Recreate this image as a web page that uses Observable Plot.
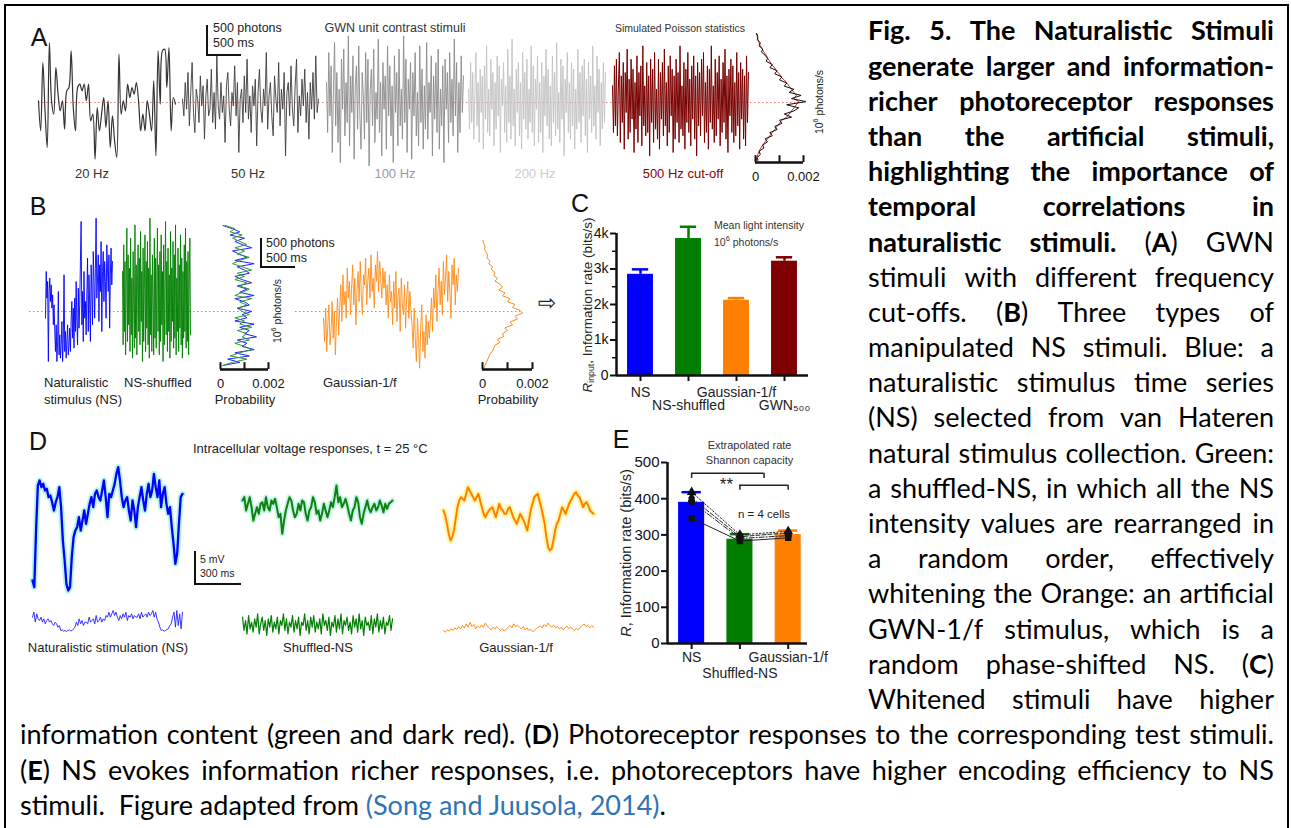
<!DOCTYPE html>
<html><head><meta charset="utf-8">
<script src="https://cdn.jsdelivr.net/npm/d3@7"></script>
<script src="https://cdn.jsdelivr.net/npm/@observablehq/plot@0.6"></script>
<style>
html,body{margin:0;padding:0;background:#fff;}
body{width:1291px;height:828px;position:relative;overflow:hidden;font-family:"Liberation Sans",Arial,sans-serif;}
#root{position:absolute;left:0;top:0;width:1291px;height:828px;}
#frame{position:absolute;left:4px;top:4px;width:1281px;height:900px;border:2px solid #000;}
.lbl{position:absolute;white-space:nowrap;line-height:1;}
.bar{position:absolute;background:#111;}
.cap{position:absolute;font-family:Lato,"Open Sans",sans-serif;font-size:27px;color:#000;}
.cap .ln{height:35.2px;line-height:35.2px;display:flex;justify-content:space-between;white-space:nowrap;}
.cap .ln span{flex:none;}
.cap .lnl{height:35.2px;line-height:35.2px;white-space:pre;}
sub{font-size:65%;vertical-align:-0.25em;}
</style></head>
<body><div id="root"><div id="frame"></div></div>
<script>
// ---------------- DATA ----------------
// Panel A: GWN stimuli (deviation from mean, units of ~5.6 photons)
const a20Hz = [5,-85,120,-25,-135,180,5,-35,105,25,-25,5,-80,35,45,155,-15,-85,45,55,35,55,5,55,-55,-35,-170,-15,-85,-35,15,-75,5,-135,-40,-115,-165,145,-35,5,-25,55,15,45,25,60,5,-85,-35,-85,5,-35,-85,65,-160,155,-5,155,160,45,165,-85,15,-5];
const a50Hz = [10,-40,60,-20,90,-70,30,120,-30,-90,40,10,-60,80,-10,50,-110,20,70,-40,-20,100,-60,30,-80,140,-10,-50,60,-30,20,-120,50,90,-20,-70,30,-10,110,-40,60,-150,10,40,-60,80,-30,130,-50,20,-90,50,-10,70,-130,30,100,-20,-60,40,-10,150,-80,20,60,-40,-100,80,10,-30,120,-70,40,-20,90,-160,30,60,-40,110,-20,-70,50,130,-90,20,-40,70,-10,100,-60,30,-110,60,-20,90,-50,140,-30,10];
const a100Hz = [60,-90,150,-40,110,-150,30,180,-70,90,-120,40,-180,130,-20,160,-100,60,-60,200,-130,80,-30,140,-170,50,110,-80,170,-40,-140,90,20,-110,150,-60,130,-190,40,100,-70,160,-120,30,-50,190,-90,60,-160,120,-20,80,-140,170,-40,110,-100,50,-180,140,-30,90,-130,160,-70,40,-110,200,-60,130,-150,70,-20,120,-170,90,-40,150,-100,30,-130,170,-60,100,-140,50,-80,180,-110,60,-30,140,-160,80,-50,120,-90,160,-140,40,-70,110,-180,130,-20,90,-120,150,-60,70,-100,190,-40,120,-150,60,-90,140,-30,80];
const a200Hz = [40,-80,120,-60,90,-110,30,150,-70,60,-120,100,-30,80,-140,110,-50,170,-90,40,-100,130,-20,90,-130,60,-80,140,-40,110,-150,70,-10,120,-90,50,-120,160,-60,80,-110,190,-70,40,-130,100,-30,120,-100,60,-140,150,-50,90,-80,130,-110,40,-60,170,-90,110,-130,70,-20,140,-120,60,-90,120,-150,80,-40,160,-70,100,-110,50,-130,140,-60,90,-100,180,-80,30,-120,130,-50,110,-160,70,-30,150,-90,60,-110,120,-70,100,-140,40,-80,160,-60,90,-120,110,-40,130,-100,70,-150,120,-50,80,-90,170,-70,50,-110,140,-30,100,-130,60,-80,120,-60,90];
const a500Hz = [50,-90,110,-70,130,-100,40,150,-120,80,-60,120,-140,90,-30,160,-110,70,-90,130,-50,100,-150,60,-80,140,-120,90,-40,110,-130,170,-70,50,-100,120,-90,80,-160,130,-60,100,-120,150,-80,40,-110,130,-140,90,-50,120,-100,160,-70,60,-130,110,-90,140,-40,100,-150,80,-110,130,-60,90,-120,170,-80,50,-100,120,-140,100,-60,150,-90,70,-130,110,-50,140,-110,80,-160,120,-70,90,-100,130,-40,150,-120,60,-90,110,-140,100,-60,170,-80,50,-120,130,-100,90,-50,140,-130,70,-90,120,-60,160,-110,80,-150,100,-40,130,-90,110,-120,60,-100,150,-70,90,-140,120,-50,100,-110,80,-130,140,-60,90];
// Panel A histogram (probability per bin, top = high intensity)
const aHistBlack = [0.00005,0.0001,0.00008,0.0002,0.00015,0.0003,0.00025,0.0004,0.0005,0.00045,0.0007,0.0006,0.0009,0.0008,0.0011,0.001,0.0013,0.0012,0.0016,0.0014,0.0019,0.0015,0.0021,0.0013,0.0018,0.0016,0.0012,0.0015,0.001,0.0011,0.0008,0.0009,0.0006,0.0007,0.0004,0.0005,0.0003,0.00035,0.00015,0.0002,0.00008,0.0001];
const aHistRed = [0.00003,0.00008,0.0001,0.00015,0.0002,0.00028,0.00035,0.00045,0.0005,0.0006,0.00065,0.0008,0.00085,0.001,0.00105,0.0012,0.0013,0.0014,0.0015,0.0016,0.0017,0.0016,0.0018,0.0017,0.0016,0.0015,0.0014,0.0013,0.0011,0.001,0.0009,0.0008,0.0007,0.0006,0.0005,0.0004,0.0003,0.00022,0.00015,0.0001,0.00006,0.00003];

// Panel B: manipulated NS stimuli
const bNS = [-20,120,40,90,-150,60,100,30,80,10,50,-40,20,-60,-120,-40,-150,-90,60,-130,-70,-140,-100,-30,-150,-80,110,-120,-60,-140,-90,-40,-130,-100,-50,-120,-20,30,-80,10,-110,40,-60,90,-30,-100,70,-50,20,150,270,-40,60,-90,120,-20,30,-70,50,160,-60,110,20,-90,140,60,-40,180,90,-20,130,280,40,100,170,-30,140,60,210,-60,120,180,30,150,90,-20,200,130,60,170,-50,110,190,80,150];
const bShuffled = [120,-100,200,-60,150,-130,80,250,-90,170,-40,130,-120,220,-70,100,-140,180,20,-110,260,-80,140,-130,90,200,-60,160,-100,240,-30,120,-150,190,-90,70,230,-120,150,-50,210,-100,130,-140,280,-70,110,-120,170,30,-130,220,-80,160,-110,90,250,-60,140,-130,180,-90,230,-40,120,-150,200,-100,80,270,-70,150,-120,190,-60,110,-140,240,-90,130,-30,210,-110,170,-80,260,-130,100,-60,190,-120,140,-50,230,-100,160,-140,120,-80,200,-60,250,-110,150,-90,180,-130,90,220,-70];
const bGauss = [-20,-90,10,-120,-40,20,-100,-60,30,-80,0,-130,-30,40,-70,10,80,-30,110,20,60,-20,130,40,90,-10,70,140,20,100,-40,60,120,30,150,50,-10,110,80,160,20,90,130,40,170,60,100,10,140,90,180,60,150,100,40,130,70,120,20,80,-20,110,30,60,-40,90,10,120,-30,50,70,-60,100,20,-10,80,-50,40,90,-20,60,0,-40,-110,10,-80,-150,-20,-90,-170,-50,20,-120,-60,-140,-10,-100,-30,-80,-20,40,-60,70,10,110,-30,60,130,20,90,-10,150,50,100,170,30,120,60,-20,140,80,160,20,110,60,130];
const bHistGreen = [0.0002,0.0006,0.0004,0.0009,0.0005,0.0008,0.0011,0.0006,0.001,0.0007,0.0012,0.0008,0.0005,0.0009,0.0013,0.0007,0.001,0.0006,0.0011,0.0008,0.0012,0.0009,0.0006,0.0013,0.0008,0.0011,0.0007,0.0009,0.0012,0.0006,0.001,0.0008,0.0013,0.0007,0.0011,0.0009,0.0012,0.0006,0.001,0.0013,0.0008,0.0004,0.0011,0.0005,0.0001];
const bHistBlue = [0.0001,0.0005,0.0008,0.0004,0.001,0.0006,0.0009,0.0013,0.0005,0.0008,0.0011,0.0006,0.0014,0.0007,0.001,0.0012,0.0006,0.0009,0.0013,0.0007,0.0011,0.0008,0.0014,0.0006,0.001,0.0012,0.0007,0.0013,0.0009,0.0011,0.0006,0.0014,0.0008,0.0012,0.001,0.0015,0.0007,0.0011,0.0009,0.0014,0.0006,0.0012,0.0003,0.0008,0.0001];
const bHistOrange = [0.00002,0.00005,0.0001,0.00008,0.00015,0.0002,0.00018,0.0003,0.00025,0.0004,0.00035,0.0005,0.00045,0.0006,0.0005,0.0007,0.0008,0.00065,0.0009,0.0008,0.0011,0.001,0.0013,0.0012,0.0015,0.0016,0.0013,0.0014,0.0011,0.0012,0.0009,0.001,0.0008,0.00085,0.0006,0.0007,0.0005,0.00045,0.0004,0.0003,0.00025,0.0002,0.00015,0.0001,0.00005];

// Panel C: information rate of the stimuli
const cCategories = ["NS","NS-shuffled","Gaussian-1/f","GWN₅₀₀"];
const cRates = [2850,3860,2120,3220];
const cErrors = [140,330,60,110];
const cColors = ["#0000ff","#007f00","#ff8000","#7f0000"];
const cLabelRow = [0,1,0,1];

// Panel D: voltage responses (units of 0.05 mV) and stimuli
const dNSResp = [50,30,200,335,350,330,340,320,325,300,305,285,260,285,300,330,270,170,110,40,20,30,120,180,200,210,240,200,230,260,220,250,280,300,270,310,320,300,290,320,350,300,240,310,300,320,340,370,390,350,300,270,290,300,260,230,290,260,210,270,300,330,290,260,310,340,300,320,370,330,300,350,270,310,330,280,250,270,210,160,100,130,220,300,310];
const dShufResp = [290,300,260,280,300,270,230,250,270,250,280,285,260,300,270,260,290,280,295,270,240,250,190,230,260,280,300,290,260,240,250,280,260,290,285,250,230,260,270,300,285,250,260,230,250,280,260,240,260,285,270,300,335,285,300,270,280,295,275,250,230,260,270,300,285,240,220,250,270,290,265,255,270,280,260,270,290,275,255,280,265,280,285,290];
const dGaussResp = [260,245,220,190,170,180,200,235,270,290,300,295,290,310,330,320,310,300,290,300,310,290,270,250,240,250,260,265,270,255,240,260,280,265,260,250,250,265,270,255,240,230,220,235,250,240,230,215,200,230,260,280,300,305,310,290,270,245,220,180,150,140,145,170,200,220,230,250,270,260,250,265,280,290,300,310,315,305,300,285,270,280,285,275,260,255,250];
const dNSStim = [-60,-45,-75,-50,-65,-70,-60,-75,-65,-80,-70,-65,-75,-70,-80,-85,-75,-80,-90,-85,-100,-98,-102,-100,-103,-100,-98,-101,-100,-95,-90,-75,-85,-65,-80,-70,-85,-75,-75,-80,-60,-75,-70,-65,-80,-55,-75,-70,-60,-75,-65,-70,-55,-60,-45,-60,-50,-40,-55,-45,-60,-70,-55,-65,-50,-60,-45,-70,-55,-60,-50,-65,-55,-60,-60,-50,-65,-45,-60,-55,-50,-60,-45,-55,-50,-40,-60,-45,-65,-75,-90,-100,-98,-102,-100,-97,-95,-85,-80,-60,-45,-90,-40,-85,-50,-95,-45];
const dShufStim = [-60,-100,-70,-110,-55,-95,-75,-105,-65,-90,-50,-110,-80,-60,-100,-70,-115,-65,-90,-55,-105,-75,-95,-60,-110,-70,-85,-50,-100,-65,-110,-75,-90,-55,-105,-70,-95,-60,-115,-75,-85,-50,-100,-70,-110,-60,-90,-55,-105,-75,-95,-65,-110,-50,-85,-70,-100,-60,-115,-75,-90,-55,-105,-65,-95,-50,-110,-70,-85,-60,-100,-75,-110,-55,-90,-65,-105,-50,-95,-70,-115,-60,-85,-75,-100,-55,-110,-65,-90,-50,-105,-70,-95,-60,-110,-75,-85,-55,-100,-65];
const dGaussStim = [-100,-105,-98,-102,-95,-100,-92,-97,-88,-95,-85,-93,-80,-90,-75,-88,-82,-95,-86,-92,-84,-90,-78,-86,-92,-98,-90,-96,-88,-94,-100,-95,-102,-96,-90,-85,-92,-80,-88,-84,-90,-95,-88,-98,-92,-100,-96,-104,-98,-94,-90,-86,-92,-82,-88,-78,-85,-90,-84,-92,-88,-95,-90,-98,-92,-87,-94,-89,-96,-100,-94,-98,-90,-86,-80,-88,-84,-92,-86,-90];

// Panel E: response information rates
const eCategories = ["NS","Shuffled-NS","Gaussian-1/f"];
const eRates = [390,288,301];
const eErrors = [28,14,11];
const eColors = ["#0000ff","#007f00","#ff8000"];
const eLabelRow = [0,1,0];
const eCells = [[418,300,310],[402,295,306],[392,290,298],[346,283,292]];
const eSymbols = ["triangle","diamond","circle","square"];
const eDashes = ["1.5,2","4,2","5,2,1,2","none"];
const eBrackets = [{from:0,to:1.5,y:470},{from:1,to:2,y:437}];

// ---------------- HELPERS ----------------
const root = document.getElementById("root");
const FONT = "Liberation Sans, Arial, sans-serif";
const baseStyle = {background:"transparent", overflow:"visible", maxWidth:"none", fontFamily:FONT, color:"#111"};
function place(node, left, top){ node.style.position="absolute"; node.style.left=left+"px"; node.style.top=top+"px"; root.appendChild(node); return node; }
function label(html, x, y, o={}){
  const d=document.createElement("div"); d.className="lbl"; d.innerHTML=html;
  d.style.fontSize=(o.size||13)+"px"; d.style.color=o.color||"#222";
  if(o.font) d.style.fontFamily=o.font;
  d.style.left=x+"px"; d.style.top=y+"px";
  const ax=o.anchor==="start"?"0":o.anchor==="end"?"-100%":"-50%";
  d.style.transform=`translate(${ax},-50%)`+(o.rotate?` rotate(${o.rotate}deg)`:"");
  root.appendChild(d); return d;
}
function bar(l,t,w,h){ const d=document.createElement("div"); d.className="bar"; Object.assign(d.style,{left:l+"px",top:t+"px",width:w+"px",height:h+"px"}); root.appendChild(d); }
function trace(values, o){
  const marks=[];
  if(o.halo) marks.push(Plot.lineY(values,{stroke:o.halo,strokeWidth:o.haloW||7,strokeLinejoin:"round",strokeLinecap:"round",curve:o.curve||"linear"}));
  marks.push(Plot.lineY(values,{stroke:o.stroke,strokeWidth:o.sw||1,strokeLinejoin:"round",curve:o.curve||"linear"}));
  const p=Plot.plot({width:o.width,height:o.height,margin:0,x:{domain:[0,values.length-1],axis:null},y:{domain:o.domain,axis:null},style:baseStyle,marks});
  return place(p,o.left,o.top);
}
function dotted(o){
  const p=Plot.plot({width:o.width,height:o.height,margin:0,x:{axis:null},y:{domain:o.domain,axis:null},style:baseStyle,
    marks:[Plot.ruleY([0],{stroke:"#e07878",strokeDasharray:"1.5,2.5",strokeWidth:1})]});
  return place(p,o.left,o.top);
}
function hist(series, o){
  const n=series[0].values.length;
  const p=Plot.plot({width:o.width,height:o.height,margin:0,
    x:{domain:[0,0.002],range:[0,o.width],axis:null},y:{domain:[0,n-1],range:o.range,axis:null},style:baseStyle,
    marks:series.map(s=>Plot.lineX(s.values,{stroke:s.stroke,strokeWidth:1}))});
  return place(p,o.left,o.top);
}
function probAxis(left, top, width){
  const p=Plot.plot({width,height:34,marginTop:0,marginBottom:26,marginLeft:0,marginRight:0,
    x:{domain:[0,0.002]},y:{domain:[0,1],axis:null},style:baseStyle,
    marks:[
      Plot.ruleY([0],{strokeWidth:2.5,stroke:"#111"}),
      Plot.ruleX([0,0.001,0.002],{y1:0,y2:0.85,strokeWidth:2,stroke:"#111"}),
      Plot.axisX({ticks:[0,0.001,0.002],tickSize:0,tickPadding:9,fontSize:13,label:null,
        tickFormat:d=>d===0?"0":(d===0.002?"0.002":"")})
    ]});
  return place(p,left,top);
}

// ---------------- PANEL A ----------------
label("A",39,37,{size:25,color:"#111"});
const aDom=[-219,216];
dotted({left:38,top:30,width:765,height:145,domain:aDom});
trace(a20Hz,{left:38,top:30,width:137,height:145,domain:aDom,stroke:"#333",sw:1.2,curve:"catmull-rom"});
trace(a50Hz,{left:182,top:30,width:136,height:145,domain:aDom,stroke:"#3d3d3d",sw:0.9});
trace(a100Hz,{left:326,top:30,width:137,height:145,domain:aDom,stroke:"#8a8a8a",sw:0.9});
trace(a200Hz,{left:468,top:30,width:137,height:145,domain:aDom,stroke:"#c2c2c2",sw:0.9});
trace(a500Hz,{left:612,top:30,width:136,height:145,domain:aDom,stroke:"#7a0000",sw:1});
hist([{values:aHistRed,stroke:"#d02828"},{values:aHistBlack,stroke:"#111"}],{left:755,top:25,width:48,height:145,range:[8,135]});
probAxis(755,154,48);
bar(206,25,2,31); bar(206,54,35,2);
label("500 photons",213,28,{anchor:"start",size:12.5});
label("500 ms",213,43,{anchor:"start",size:12.5});
label("GWN unit contrast stimuli",395,28,{size:12.5,color:"#333"});
label("Simulated Poisson statistics",680,28,{size:10.5,color:"#333"});
label("20 Hz",92,173,{size:13,color:"#333"});
label("50 Hz",248,173,{size:13,color:"#333"});
label("100 Hz",395,173,{size:13,color:"#9a9a9a"});
label("200 Hz",535,173,{size:13,color:"#cdcdcd"});
label("500 Hz cut-off",683,173,{size:13,color:"#8b0000"});
label("10<sup style='font-size:70%'>6</sup> photons/s",818,102,{size:10.5,rotate:-90,color:"#222"});

// ---------------- PANEL B ----------------
label("B",38,206,{size:25,color:"#111"});
const bDom=[-192,303];
dotted({left:29,top:210,width:223,height:165,domain:bDom});
dotted({left:295,top:210,width:225,height:165,domain:bDom});
trace(bNS,{left:45,top:210,width:67,height:165,domain:bDom,stroke:"#0000ff",sw:0.9});
trace(bShuffled,{left:122,top:210,width:68,height:165,domain:bDom,stroke:"#007f00",sw:0.9});
trace(bGauss,{left:323,top:210,width:135,height:165,domain:bDom,stroke:"#ff8c1a",sw:0.9});
hist([{values:bHistBlue,stroke:"#2222ff"},{values:bHistGreen,stroke:"#2f9a2f"}],{left:220,top:210,width:48,height:160,range:[15,155]});
hist([{values:bHistOrange,stroke:"#ff8c1a"}],{left:482,top:210,width:50,height:160,range:[30,158]});
probAxis(220,361,48);
probAxis(482,361,50);
label("Probability",245,399,{size:13});
label("Probability",508,399,{size:13});
label("10<sup style='font-size:70%'>6</sup> photons/s",276,311,{size:10.5,rotate:-90});
bar(260,238,2,30); bar(260,266,35,2);
label("500 photons",266,243,{anchor:"start",size:12.5});
label("500 ms",266,258,{anchor:"start",size:12.5});
label("Naturalistic",44,382,{anchor:"start",size:13});
label("stimulus (NS)",44,399,{anchor:"start",size:13});
label("NS-shuffled",124,382,{anchor:"start",size:13});
label("Gaussian-1/f",323,382,{anchor:"start",size:13});
label("⇨",547,303,{size:22,font:"DejaVu Sans",color:"#222"});

// ---------------- PANEL C ----------------
label("C",580,203,{size:25,color:"#111"});
const cData=cCategories.map((name,i)=>({name,i,rate:cRates[i],err:cErrors[i],color:cColors[i],row:cLabelRow[i]}));
place(Plot.plot({width:260,height:205,marginLeft:56,marginTop:18,marginBottom:45,marginRight:12,
  x:{domain:[-0.5,3.5],axis:null},y:{domain:[0,4000],axis:null},color:{type:"identity"},style:baseStyle,
  marks:[
    Plot.rectY(cData,{x1:d=>d.i-0.27,x2:d=>d.i+0.27,y1:0,y2:"rate",fill:"color"}),
    Plot.ruleX(cData,{x:"i",y1:"rate",y2:d=>d.rate+d.err,stroke:"color",strokeWidth:2.5}),
    Plot.ruleY(cData,{y:d=>d.rate+d.err,x1:d=>d.i-0.17,x2:d=>d.i+0.17,stroke:"color",strokeWidth:2.5}),
    Plot.ruleX([-0.5],{y1:0,y2:4000,strokeWidth:2.5,stroke:"#111"}),
    Plot.ruleY([0],{strokeWidth:2.5,stroke:"#111"}),
    Plot.axisY({ticks:[0,1000,2000,3000,4000],tickFormat:d=>d===0?"0":d/1000+"k",tickSize:6,tickPadding:2,fontSize:14,strokeWidth:2,label:null}),
    Plot.axisY({ticks:[500,1500,2500,3500],tickFormat:()=>"",tickSize:4,strokeWidth:1.5,label:null}),
    Plot.axisX({ticks:[0,1,2,3],tickFormat:()=>"",tickSize:6,strokeWidth:2,label:null}),
    Plot.text(cData.filter(d=>d.row===0),{x:"i",y:0,text:"name",dy:17,fontSize:14,fill:"#222"}),
    Plot.text(cData.filter(d=>d.row===1),{x:"i",y:0,text:"name",dy:30,fontSize:14,fill:"#222"})
  ]}),560,215);
label("<i>R</i><sub>input</sub>, Information rate (bits/s)",588,305,{size:13.5,rotate:-90});
label("Mean light intensity",714,225,{anchor:"start",size:10.5,color:"#333"});
label("10<sup style='font-size:70%'>6</sup> photons/s",714,241,{anchor:"start",size:10.5,color:"#333"});

// ---------------- PANEL D ----------------
label("D",38,441,{size:25,color:"#111"});
label("Intracellular voltage responses, t = 25 °C",193,448,{anchor:"start",size:13});
const dDom=[-160,500];
trace(dNSResp,{left:32,top:430,width:150,height:220,domain:dDom,stroke:"#0000ff",sw:2.3,halo:"#b4f4e4",haloW:6});
trace(dShufResp,{left:242,top:430,width:150,height:220,domain:dDom,stroke:"#108010",sw:2,halo:"#c0f4e4",haloW:5.5});
trace(dGaussResp,{left:443,top:430,width:150,height:220,domain:dDom,stroke:"#ff8000",sw:2,halo:"#fff6a8",haloW:6});
trace(dNSStim,{left:32,top:430,width:150,height:220,domain:dDom,stroke:"#2020ff",sw:0.9});
trace(dShufStim,{left:242,top:430,width:150,height:220,domain:dDom,stroke:"#007f00",sw:1.2});
trace(dGaussStim,{left:443,top:430,width:150,height:220,domain:dDom,stroke:"#ff8c1a",sw:1});
bar(194,551,2,34); bar(194,583,47,2);
label("5 mV",200,559,{anchor:"start",size:10.5});
label("300 ms",200,573,{anchor:"start",size:10.5});
label("Naturalistic stimulation (NS)",108,647,{size:13});
label("Shuffled-NS",318,647,{size:13});
label("Gaussian-1/f",516,647,{size:13});

// ---------------- PANEL E ----------------
label("E",621,439,{size:25,color:"#111"});
const eData=eCategories.map((name,i)=>({name,i,rate:eRates[i],err:eErrors[i],color:eColors[i],row:eLabelRow[i]}));
const eCellData=eCells.flatMap((vals,c)=>vals.map((v,i)=>({cell:c,i,value:v,symbol:eSymbols[c]})));
place(Plot.plot({width:300,height:250,marginLeft:107,marginTop:32,marginBottom:37,marginRight:53,
  x:{domain:[-0.5,2.4],axis:null},y:{domain:[0,500],axis:null},color:{type:"identity"},symbol:{type:"identity"},style:baseStyle,
  marks:[
    Plot.rectY(eData,{x1:d=>d.i-0.27,x2:d=>d.i+0.27,y1:0,y2:"rate",fill:"color"}),
    Plot.ruleX(eData,{x:"i",y1:"rate",y2:d=>d.rate+d.err,stroke:"color",strokeWidth:2.5}),
    Plot.ruleY(eData,{y:d=>d.rate+d.err,x1:d=>d.i-0.2,x2:d=>d.i+0.2,stroke:"color",strokeWidth:2.5}),
    ...eCells.map((vals,c)=>Plot.line(eCellData.filter(d=>d.cell===c),{x:"i",y:"value",stroke:"#222",strokeWidth:1,strokeDasharray:eDashes[c]})),
    Plot.dot(eCellData,{x:"i",y:"value",symbol:"symbol",fill:"#111",r:3.6}),
    Plot.ruleX([-0.5],{y1:0,y2:500,strokeWidth:2.5,stroke:"#111"}),
    Plot.ruleY([0],{strokeWidth:2.5,stroke:"#111"}),
    Plot.axisY({ticks:[0,100,200,300,400,500],tickSize:6,tickPadding:2,fontSize:15,strokeWidth:2,label:null}),
    Plot.axisX({ticks:[0,1,2],tickFormat:()=>"",tickSize:6,strokeWidth:2,label:null}),
    Plot.text(eData.filter(d=>d.row===0),{x:"i",y:0,text:"name",dy:14,fontSize:14,fill:"#222"}),
    Plot.text(eData.filter(d=>d.row===1),{x:"i",y:0,text:"name",dy:30,fontSize:14,fill:"#222"}),
    Plot.ruleY(eBrackets,{y:"y",x1:"from",x2:"to",stroke:"#222",strokeWidth:1.5}),
    Plot.ruleX(eBrackets,{x:"from",y1:"y",y2:d=>d.y-14,stroke:"#222",strokeWidth:1.5}),
    Plot.ruleX(eBrackets,{x:"to",y1:"y",y2:d=>d.y-14,stroke:"#222",strokeWidth:1.5}),
    Plot.text(["**"],{x:0.72,y:440,text:d=>d,fontSize:17,fill:"#222"}),
    Plot.text(["Extrapolated rate","Shannon capacity"],{x:1.2,y:(d,i)=>[547,505][i],text:d=>d,fontSize:11,fill:"#333"}),
    Plot.text(["n = 4 cells"],{x:1.5,y:356,text:d=>d,fontSize:11.5,fill:"#222"})
  ]}),560,430);
label("<i>R</i>, Information rate (bits/s)",626,553,{size:14.5,rotate:-90});

// ---------------- CAPTION ----------------
const capRight = [
 "<b>Fig.</b> <b>5.</b> <b>The</b> <b>Naturalistic</b> <b>Stimuli</b>",
 "<b>generate</b> <b>larger</b> <b>and</b> <b>information-</b>",
 "<b>richer</b> <b>photoreceptor</b> <b>responses</b>",
 "<b>than</b> <b>the</b> <b>artificial</b> <b>stimuli,</b>",
 "<b>highlighting</b> <b>the</b> <b>importance</b> <b>of</b>",
 "<b>temporal</b> <b>correlations</b> <b>in</b>",
 "<b>naturalistic</b> <b>stimuli.</b> (<b>A</b>) GWN",
 "stimuli with different frequency",
 "cut-offs. (<b>B</b>) Three types of",
 "manipulated NS stimuli. Blue: a",
 "naturalistic stimulus time series",
 "(NS) selected from van Hateren",
 "natural stimulus collection. Green:",
 "a shuffled-NS, in which all the NS",
 "intensity values are rearranged in",
 "a random order, effectively",
 "whitening the Orange: an artificial",
 "GWN-1/f stimulus, which is a",
 "random phase-shifted NS. (<b>C</b>)",
 "Whitened stimuli have higher"
];
const capFull = [
 "information content (green and dark red). (<b>D</b>) Photoreceptor responses to the corresponding test stimuli.",
 "(<b>E</b>) NS evokes information richer responses, i.e. photoreceptors have higher encoding efficiency to NS"
];
const capLast = "stimuli.  Figure adapted from <span style='color:#2e74b5'>(Song and Juusola, 2014)</span>.";
function capBlock(lines,left,top,width,last){
  const box=document.createElement("div"); box.className="cap";
  Object.assign(box.style,{left:left+"px",top:top+"px",width:width+"px"});
  lines.forEach(l=>{ const ln=document.createElement("div"); ln.className="ln";
    ln.innerHTML=l.split(" ").map(w=>"<span>"+w+"</span>").join(""); box.appendChild(ln); });
  if(last){ const ln=document.createElement("div"); ln.className="lnl"; ln.innerHTML=last; box.appendChild(ln); }
  root.appendChild(box);
  box.querySelectorAll(".ln").forEach(ln=>{
    let fs=27, k=0;
    const spans=[...ln.children];
    const natural=()=>spans.reduce((s,sp)=>s+sp.getBoundingClientRect().width,0);
    while(natural()+5*(spans.length-1) > width && k<40){ fs-=0.25; ln.style.fontSize=fs+"px"; k++; }
  });
}
capBlock(capRight,868,12.4,406,null);
capBlock(capFull,20,12.4+20*35.2,1254,capLast);
</script>
</body></html>
